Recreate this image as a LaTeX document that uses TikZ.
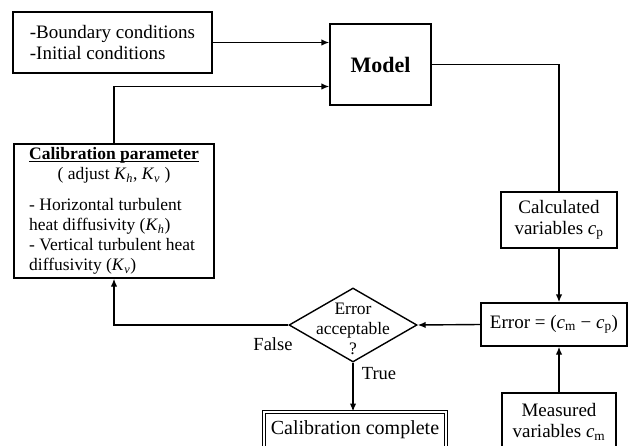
\documentclass[tikz,border=0pt]{standalone}
\usepackage{fontspec}
\setmainfont{Liberation Serif}
\usetikzlibrary{shapes.geometric,arrows.meta}
\newcommand{\Kof}[1]{\textit{K}\textsubscript{\textit{#1}}}
\newcommand{\cof}[1]{\textit{c}\textsubscript{#1}}
\newlength{\ulwd}
\newcommand{\ulbf}[1]{\settowidth{\ulwd}{\textbf{#1}}\textbf{#1}\hspace{-\ulwd}\rule[-2.5pt]{\ulwd}{1.1pt}}
\begin{document}
\begin{tikzpicture}[x=1pt,y=-1pt,
  box/.style={draw, line width=1.4pt, rectangle, inner sep=0pt, align=center, font=\fontsize{19}{21}\selectfont},
  arr/.style={line width=1.4pt, -{Latex[length=8pt,width=6.5pt]}},
  lnk/.style={line width=1.4pt},
  lbl/.style={inner sep=0pt, font=\fontsize{18.5}{20}\selectfont}]
\clip (0,0) rectangle (628,446);
\node[box, align=left, minimum width=199pt, minimum height=61pt] (cond) at (112.5,42.5) {-Boundary conditions\\-Initial conditions};
\node[box, font=\fontsize{22}{24}\selectfont\bfseries, minimum width=101pt, minimum height=81pt] (model) at (380.5,64.5) {Model};
\node[box, minimum width=200pt, minimum height=134pt, font=\fontsize{17.5}{20}\selectfont] (calib) at (114,211) {\begin{tabular}{@{}l@{}}
\multicolumn{1}{@{}c@{}}{\ulbf{Calibration parameter}}\\
\multicolumn{1}{@{}c@{}}{( adjust \Kof{h}, \Kof{v} )}\\[11pt]
- Horizontal turbulent\\
heat diffusivity (\Kof{h})\\
- Vertical turbulent heat\\
diffusivity (\Kof{v})
\end{tabular}};
\node[box, minimum width=116pt, minimum height=56pt] (calc) at (559,220) {Calculated\\variables \cof{p}};
\node[box, minimum width=146pt, minimum height=43pt] (err) at (554,324.5) {Error = (\cof{m} − \cof{p})};
\node[box, minimum width=114pt, minimum height=58pt] (meas) at (559,422) {Measured\\variables \cof{m}};
\node[draw, diamond, line width=1.4pt, inner sep=0pt, minimum width=128pt, minimum height=74pt, font=\fontsize{17.5}{20}\selectfont] (dec) at (353,325) {\smash{\makebox[0pt]{\raisebox{-10pt}{\begin{tabular}{@{}c@{}}Error\\acceptable\\?\end{tabular}}}}};
\node[box, double, double distance=1.8pt, line width=1pt, minimum width=182pt, minimum height=36pt, font=\fontsize{20}{22}\selectfont] (comp) at (355,430) {Calibration complete};
\node[lbl] (lfalse) at (273,344) {False};
\node[lbl] (ltrue) at (379,374) {True};
\draw[arr] (cond.east) -- (cond.east -| model.west);
\draw[arr] (calib.north) |- ([yshift=-22pt]model.west);
\draw[lnk] (model.east) -| (calc.north);
\draw[arr] (calc.south) -- (calc.south |- err.north);
\draw[arr] (meas.north) -- (meas.north |- err.south);
\draw[arr] (err.west) -- (dec.east);
\draw[arr] (dec.west) -| (calib.south);
\draw[arr] (dec.south) -- (dec.south |- comp.north);
\end{tikzpicture}
\end{document}
